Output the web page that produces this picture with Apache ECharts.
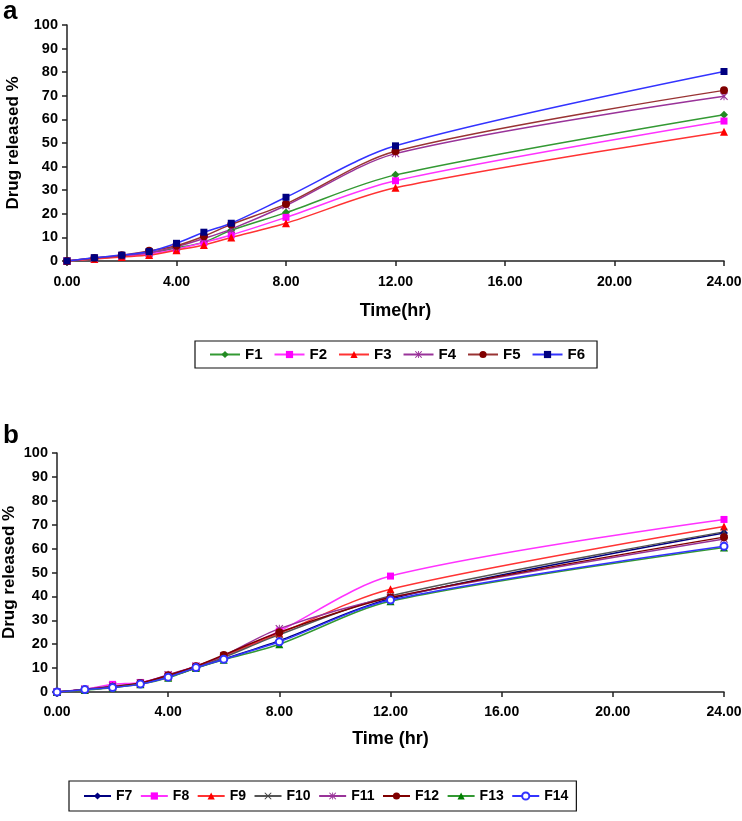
<!DOCTYPE html>
<html>
<head>
<meta charset="utf-8">
<script src="https://cdn.jsdelivr.net/npm/echarts@6/dist/echarts.min.js"></script>
<style>
html,body{margin:0;padding:0;background:#fff;}
#c{width:742px;height:821px;}
</style>
</head>
<body>
<div id="c"></div>
<script>
var times = [0, 1, 2, 3, 4, 5, 6, 8, 12, 24];
var xTicks = [0, 4, 8, 12, 16, 20, 24];
var yTicks = [0, 10, 20, 30, 40, 50, 60, 70, 80, 90, 100];

var namesA = ['F1', 'F2', 'F3', 'F4', 'F5', 'F6'];
var F1 = [0, 1.0, 2.0, 3.2, 5.5, 8.0, 13.0, 20.5, 36.5, 62.0];
var F2 = [0, 1.0, 2.0, 3.0, 5.0, 7.8, 11.0, 18.5, 34.0, 59.3];
var F3 = [0, 0.8, 1.7, 2.5, 4.6, 6.8, 10.0, 16.0, 31.0, 54.8];
var F4 = [0, 1.2, 2.2, 3.5, 6.0, 9.5, 13.5, 23.5, 45.5, 69.8];
var F5 = [0, 1.3, 2.4, 4.3, 6.5, 10.5, 15.5, 24.2, 46.5, 72.3];
var F6 = [0, 1.4, 2.5, 4.0, 7.5, 12.2, 16.0, 27.0, 48.8, 80.3];

var namesB = ['F7', 'F8', 'F9', 'F10', 'F11', 'F12', 'F13', 'F14'];
var F7 = [0, 1.0, 2.0, 3.5, 6.2, 10.0, 13.8, 21.5, 39.0, 66.5];
var F8 = [0, 1.2, 3.2, 4.0, 7.0, 10.8, 15.0, 25.5, 48.5, 72.2];
var F9 = [0, 1.0, 2.2, 3.6, 6.5, 10.5, 15.0, 24.5, 43.0, 69.2];
var F10 = [0, 1.0, 2.0, 3.5, 6.5, 10.3, 14.5, 24.0, 40.2, 67.0];
var F11 = [0, 1.2, 2.5, 3.8, 7.2, 10.8, 15.2, 26.5, 39.5, 64.0];
var F12 = [0, 1.0, 2.2, 3.8, 7.0, 10.8, 15.5, 25.0, 39.5, 64.8];
var F13 = [0, 0.8, 1.8, 3.2, 6.0, 10.0, 13.5, 20.0, 38.0, 60.5];
var F14 = [0, 1.0, 1.9, 3.3, 6.2, 10.2, 13.7, 21.0, 38.5, 61.0];

var FONT = 'Liberation Sans, Arial, sans-serif';
var X_SYM = 'path://M1,0L5,4L9,0L10,1L6,5L10,9L9,10L5,6L1,10L0,9L4,5L0,1Z';
var STAR_SYM = 'path://M1,0L5,4L9,0L10,1L6,5L10,9L9,10L5,6L1,10L0,9L4,5L0,1ZM4.4,0L5.6,0L5.6,10L4.4,10Z';

function pairs(vals) {
  return times.map(function (t, i) { return [t, vals[i]]; });
}

function mk(name, vals, idx, lineColor, markColor, symbol, size) {
  return {
    name: name, type: 'line', xAxisIndex: idx, yAxisIndex: idx,
    data: pairs(vals), smooth: 0.3,
    symbol: symbol, symbolSize: size || 7,
    lineStyle: { color: lineColor, width: 1.5 },
    itemStyle: { color: markColor, borderColor: markColor, borderWidth: symbol === 'emptyCircle' ? 1.5 : 0 },
    emphasis: { disabled: true },
    z: 2
  };
}

function xAxis(idx, title, gap, margin) {
  return {
    type: 'value', gridIndex: idx, min: 0, max: 24, interval: 4,
    name: title, nameLocation: 'middle', nameGap: gap, nameMoveOverlap: false,
    nameTextStyle: { fontFamily: FONT, fontWeight: 'bold', fontSize: 18, color: '#000' },
    axisLine: { show: true, onZero: false, lineStyle: { color: '#222', width: 1.5 } },
    axisTick: { show: true, inside: false, length: 5, lineStyle: { color: '#222', width: 1.5 } },
    axisLabel: { margin: margin, fontFamily: FONT, fontWeight: 'bold', fontSize: 14, color: '#000',
      formatter: function (v) { return xTicks.indexOf(v) >= 0 ? v.toFixed(2) : ''; } },
    splitLine: { show: false }
  };
}

function yAxis(idx, gap) {
  return {
    type: 'value', gridIndex: idx, min: 0, max: 100, interval: 10,
    name: 'Drug released %', nameLocation: 'middle', nameGap: gap, nameRotate: 90, nameMoveOverlap: false,
    nameTextStyle: { fontFamily: FONT, fontWeight: 'bold', fontSize: 17, color: '#000' },
    axisLine: { show: true, lineStyle: { color: '#222', width: 1.5 } },
    axisTick: { show: true, inside: false, length: 5, lineStyle: { color: '#222', width: 1.5 } },
    axisLabel: { margin: 9, fontFamily: FONT, fontWeight: 'bold', fontSize: 14.5, color: '#000',
      formatter: function (v) { return yTicks.indexOf(v) >= 0 ? String(v) : ''; } },
    splitLine: { show: false }
  };
}

var chart = echarts.init(document.getElementById('c'), null, { renderer: 'canvas' });
chart.setOption({
  animation: false,
  backgroundColor: '#fff',
  title: [
    { text: 'a', left: -2, top: -6, textStyle: { fontFamily: FONT, fontWeight: 'bold', fontSize: 26, color: '#000' } },
    { text: 'b', left: -2, top: 418, textStyle: { fontFamily: FONT, fontWeight: 'bold', fontSize: 26, color: '#000' } }
  ],
  grid: [
    { left: 67, right: 18, top: 25, height: 236, containLabel: false, outerBoundsMode: 'none' },
    { left: 57, right: 18, top: 453, height: 239, containLabel: false, outerBoundsMode: 'none' }
  ],
  xAxis: [xAxis(0, 'Time(hr)', 41, 14), xAxis(1, 'Time (hr)', 38, 13)],
  yAxis: [yAxis(0, 45), yAxis(1, 39)],
  legend: [
    {
      data: namesA, left: 195, top: 341, orient: 'horizontal',
      itemWidth: 30, itemHeight: 9, itemGap: 11,
      padding: [6, 12, 6, 14],
      borderColor: '#111', borderWidth: 1.2,
      textStyle: { fontFamily: FONT, fontWeight: 'bold', fontSize: 15, color: '#000' },
      selectedMode: false
    },
    {
      data: namesB, left: 69, top: 781, orient: 'horizontal',
      itemWidth: 27, itemHeight: 9, itemGap: 7.5,
      padding: [8, 8, 8, 14],
      borderColor: '#111', borderWidth: 1.2,
      textStyle: { fontFamily: FONT, fontWeight: 'bold', fontSize: 14, color: '#000' },
      selectedMode: false
    }
  ],
  series: [
    mk('F1', F1, 0, '#339933', '#228B22', 'diamond', 8),
    mk('F2', F2, 0, '#ff33ff', '#ff00ff', 'rect', 7),
    mk('F3', F3, 0, '#ff3333', '#ff0000', 'triangle', 8),
    mk('F4', F4, 0, '#993399', '#993399', STAR_SYM, 8),
    mk('F5', F5, 0, '#993333', '#800000', 'circle', 8),
    mk('F6', F6, 0, '#3333ff', '#000080', 'rect', 7),
    mk('F7', F7, 1, '#000080', '#000080', 'diamond', 8),
    mk('F8', F8, 1, '#ff33ff', '#ff00ff', 'rect', 7),
    mk('F9', F9, 1, '#ff3333', '#ff0000', 'triangle', 8),
    mk('F10', F10, 1, '#555555', '#444444', X_SYM, 7),
    mk('F11', F11, 1, '#993399', '#993399', STAR_SYM, 8),
    mk('F12', F12, 1, '#800000', '#800000', 'circle', 8),
    mk('F13', F13, 1, '#339933', '#008000', 'triangle', 8),
    mk('F14', F14, 1, '#3333ff', '#3333ff', 'emptyCircle', 7)
  ]
});
</script>
</body>
</html>
